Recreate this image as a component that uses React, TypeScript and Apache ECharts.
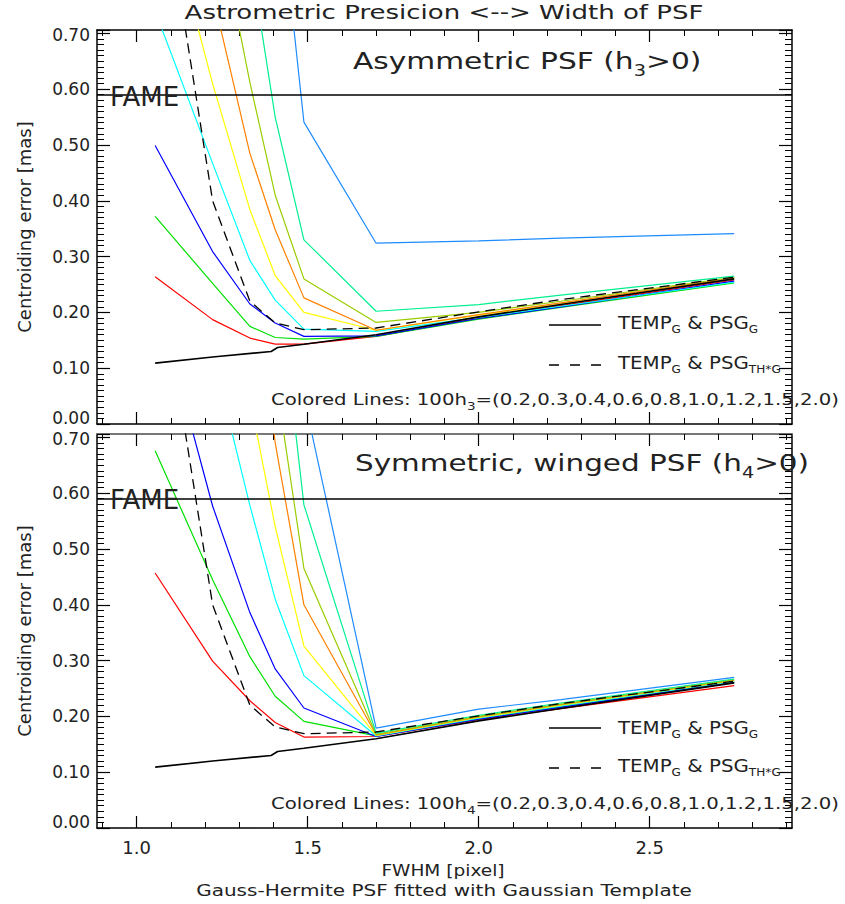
import React, { useEffect, useRef } from "react";
import * as echarts from "echarts";

// ---------- data ----------
const FWHM_GRID = [1.054, 1.222, 1.331, 1.405, 1.489, 1.7, 2.0, 2.24, 2.747];
const FWHM_TEMP_G = [1.054, 1.222, 1.393, 1.412, 1.489, 1.7, 2.0, 2.24, 2.747];

const ERR_TEMPG_PSGG = [0.109, 0.12, 0.13, 0.137, 0.143, 0.16, 0.192, 0.214, 0.26];
const ERR_TEMPG_PSGTHG = [1.05, 0.4, 0.22, 0.181, 0.169, 0.172, 0.201, 0.223, 0.263];

const H_VALUES = ["0.2", "0.3", "0.4", "0.6", "0.8", "1.0", "1.2", "1.5", "2.0"];
const H_COLORS = ["#ff0000", "#00e000", "#0000ff", "#00ffff", "#ffff00", "#ff8000", "#9acd00", "#00f090", "#1e8cff"];

// asymmetric PSF (h3)
const ERR_H3_02 = [0.264, 0.187, 0.154, 0.143, 0.143, 0.157, 0.19, 0.212, 0.258];
const ERR_H3_03 = [0.372, 0.252, 0.175, 0.155, 0.152, 0.157, 0.188, 0.209, 0.253];
const ERR_H3_04 = [0.499, 0.309, 0.215, 0.181, 0.157, 0.158, 0.189, 0.21, 0.256];
const ERR_H3_06 = [0.74, 0.467, 0.293, 0.222, 0.17, 0.166, 0.191, 0.211, 0.254];
const ERR_H3_08 = [1.0, 0.61, 0.384, 0.266, 0.2, 0.168, 0.195, 0.215, 0.26];
const ERR_H3_10 = [1.3, 0.77, 0.485, 0.348, 0.226, 0.168, 0.196, 0.217, 0.262];
const ERR_H3_12 = [1.6, 0.95, 0.612, 0.41, 0.26, 0.182, 0.2, 0.22, 0.263];
const ERR_H3_15 = [2.0, 1.3, 0.84, 0.55, 0.33, 0.202, 0.214, 0.231, 0.265];
const ERR_H3_20 = [3.0, 2.2, 1.5, 1.02, 0.541, 0.324, 0.328, 0.333, 0.341];

// symmetric winged PSF (h4)
const ERR_H4_02 = [0.457, 0.299, 0.228, 0.189, 0.163, 0.164, 0.194, 0.214, 0.255];
const ERR_H4_03 = [0.676, 0.445, 0.307, 0.236, 0.191, 0.165, 0.196, 0.217, 0.262];
const ERR_H4_04 = [0.96, 0.577, 0.386, 0.285, 0.215, 0.164, 0.195, 0.216, 0.261];
const ERR_H4_06 = [1.4, 0.85, 0.578, 0.41, 0.273, 0.165, 0.197, 0.219, 0.263];
const ERR_H4_08 = [2.0, 1.2, 0.77, 0.54, 0.326, 0.166, 0.198, 0.22, 0.264];
const ERR_H4_10 = [2.5, 1.6, 1.1, 0.69, 0.4, 0.167, 0.199, 0.221, 0.265];
const ERR_H4_12 = [3.0, 2.0, 1.3, 0.81, 0.465, 0.168, 0.2, 0.222, 0.266];
const ERR_H4_15 = [3.5, 2.4, 1.5, 1.03, 0.579, 0.17, 0.202, 0.224, 0.267];
const ERR_H4_20 = [4.0, 2.8, 1.7, 1.2, 0.772, 0.179, 0.213, 0.23, 0.27];

const ERR_H3 = [ERR_H3_02, ERR_H3_03, ERR_H3_04, ERR_H3_06, ERR_H3_08, ERR_H3_10, ERR_H3_12, ERR_H3_15, ERR_H3_20];
const ERR_H4 = [ERR_H4_02, ERR_H4_03, ERR_H4_04, ERR_H4_06, ERR_H4_08, ERR_H4_10, ERR_H4_12, ERR_H4_15, ERR_H4_20];

const FAME_LEVEL = 0.59;
const X_MIN = 0.884;
const X_MAX = 2.916;
const Y_MAX = 0.706;
const X_MAJOR_TICKS = [1.0, 1.5, 2.0, 2.5];
const X_MINOR_TICKS = [0.9, 1.0, 1.1, 1.2, 1.3, 1.4, 1.5, 1.6, 1.7, 1.8, 1.9, 2.0, 2.1, 2.2, 2.3, 2.4, 2.5, 2.6, 2.7, 2.8, 2.9];

const FONT = '"DejaVu Sans", sans-serif';
const INK = "#222";

function buildOption() {
  const xAxes: any[] = [];
  const yAxes: any[] = [];
  [0, 1].forEach((g) => {
    const frameColor = "#000";
    const topColor = g === 1 ? "#777" : "#000";
    const base = { type: "value", gridIndex: g, min: X_MIN, max: X_MAX, splitLine: { show: false } };
    xAxes.push({
      ...base,
      position: "bottom",
      axisLine: { show: true, onZero: false, lineStyle: { color: frameColor, width: 1.5 } },
      axisTick: { show: true, inside: true, length: 12, customValues: X_MAJOR_TICKS, lineStyle: { color: "#000", width: 1.2 } },
      axisLabel: {
        show: g === 1,
        customValues: X_MAJOR_TICKS,
        formatter: (v: number) => v.toFixed(1),
        fontSize: 18,
        fontFamily: FONT,
        color: INK,
        margin: 10,
      },
    });
    xAxes.push({
      ...base,
      position: "bottom",
      axisLine: { show: false, onZero: false },
      axisTick: { show: true, inside: true, length: 6, customValues: X_MINOR_TICKS, lineStyle: { color: "#000", width: 1 } },
      axisLabel: { show: false },
    });
    xAxes.push({
      ...base,
      position: "top",
      axisLine: { show: true, onZero: false, lineStyle: { color: topColor, width: g === 1 ? 2 : 1.5 } },
      axisTick: { show: true, inside: true, length: 12, customValues: X_MAJOR_TICKS, lineStyle: { color: "#000", width: 1.2 } },
      axisLabel: { show: false },
    });
    xAxes.push({
      ...base,
      position: "top",
      axisLine: { show: false, onZero: false },
      axisTick: { show: true, inside: true, length: 6, customValues: X_MINOR_TICKS, lineStyle: { color: "#000", width: 1 } },
      axisLabel: { show: false },
    });
    const yBase = {
      type: "value",
      gridIndex: g,
      min: 0,
      max: Y_MAX,
      interval: 0.1,
      splitLine: { show: false },
      axisLine: { show: true, onZero: false, lineStyle: { color: frameColor, width: 1.5 } },
      axisTick: { show: true, inside: true, length: 13, lineStyle: { color: "#000", width: 1.2 } },
      minorTick: { show: true, splitNumber: 10, length: 7, lineStyle: { color: "#000", width: 1 } },
    };
    yAxes.push({
      ...yBase,
      position: "left",
      axisLabel: {
        show: true,
        formatter: (v: number) => {
          if (Math.abs(v * 10 - Math.round(v * 10)) > 1e-6) return "";
          const s = v.toFixed(2);
          if (v < 1e-9) return "{lo|" + s + "}";
          if (Math.abs(v - 0.7) < 1e-6) return "{hi|" + s + "}";
          return s;
        },
        fontSize: 17,
        fontFamily: FONT,
        color: INK,
        margin: 7,
        rich: {
          lo: { fontSize: 17, fontFamily: FONT, color: INK, padding: [0, 0, 12, 0] },
          hi: { fontSize: 17, fontFamily: FONT, color: INK, padding: [4, 0, 0, 0] },
        },
      },
    });
    yAxes.push({ ...yBase, position: "right", axisLabel: { show: false } });
  });

  const series: any[] = [];
  const panels = [
    { errs: ERR_H3, xi: 0, yi: 0 },
    { errs: ERR_H4, xi: 4, yi: 2 },
  ];
  panels.forEach((p) => {
    p.errs.forEach((ys, k) => {
      series.push({
        type: "line",
        name: "100h=" + H_VALUES[k],
        xAxisIndex: p.xi,
        yAxisIndex: p.yi,
        data: FWHM_GRID.map((x, i) => [x, ys[i]]),
        symbol: "none",
        clip: true,
        silent: true,
        lineStyle: { color: H_COLORS[k], width: 1.2 },
        z: 2,
      });
    });
    series.push({
      type: "line",
      name: "TEMP_G & PSG_TH*G",
      xAxisIndex: p.xi,
      yAxisIndex: p.yi,
      data: FWHM_GRID.map((x, i) => [x, ERR_TEMPG_PSGTHG[i]]),
      symbol: "none",
      clip: true,
      silent: true,
      lineStyle: { color: "#000", width: 1.3, type: [10, 6] },
      z: 3,
    });
    series.push({
      type: "line",
      name: "TEMP_G & PSG_G",
      xAxisIndex: p.xi,
      yAxisIndex: p.yi,
      data: FWHM_TEMP_G.map((x, i) => [x, ERR_TEMPG_PSGG[i]]),
      symbol: "none",
      clip: true,
      silent: true,
      lineStyle: { color: "#000", width: 1.6 },
      z: 4,
      markLine: {
        silent: true,
        symbol: ["none", "none"],
        label: { show: false },
        lineStyle: { color: "#000", width: 1.6, type: "solid" },
        data: [{ yAxis: FAME_LEVEL }],
      },
    });
  });

  const txt = (x: number, y: number, text: string, size: number, sx = 1, extra: any = {}, el: any = {}) => ({
    type: "text",
    x,
    y,
    scaleX: sx,
    silent: true,
    z: 100,
    ...el,
    style: { text, fill: INK, fontSize: size, fontFamily: FONT, align: "left", verticalAlign: "middle", ...extra },
  });
  const sub = (size: number, pad: number) => ({ s: { fontSize: size, fontFamily: FONT, fill: INK, padding: [pad, 0, 0, 0] } });

  const graphic: any[] = [
    txt(444, 12, "Astrometric Presicion <--> Width of PSF", 19, 1.37, { align: "center" }),
    txt(353, 61, "Asymmetric PSF (h{s|3}>0)", 23, 1.29, { rich: sub(15, 20) }),
    txt(355, 463, "Symmetric, winged PSF (h{s|4}>0)", 23, 1.28, { rich: sub(15, 20) }),
    txt(110, 97, "FAME", 26, 1),
    txt(110, 500, "FAME", 26, 1),
    txt(24, 227, "Centroiding error [mas]", 18, 1, { align: "center" }, { rotation: Math.PI / 2 }),
    txt(24, 631, "Centroiding error [mas]", 18, 1, { align: "center" }, { rotation: Math.PI / 2 }),
    txt(443, 870, "FWHM [pixel]", 16, 1.16, { align: "center" }),
    txt(444, 890, "Gauss-Hermite PSF fitted with Gaussian Template", 16, 1.25, { align: "center" }),
  ];
  const legendRows = [
    { solidY: 325, solidT: 322, dashY: 365, dashT: 362, colY: 399, h: "3" },
    { solidY: 728, solidT: 727, dashY: 768, dashT: 765, colY: 803, h: "4" },
  ];
  legendRows.forEach((r) => {
    graphic.push({ type: "line", silent: true, z: 100, shape: { x1: 549, y1: r.solidY, x2: 601, y2: r.solidY }, style: { stroke: "#000", lineWidth: 1.3 } });
    graphic.push({ type: "line", silent: true, z: 100, shape: { x1: 549, y1: r.dashY, x2: 601, y2: r.dashY }, style: { stroke: "#000", lineWidth: 1.3, lineDash: [10, 11] } });
    graphic.push(txt(618, r.solidT, "TEMP{s|G} & PSG{s|G}", 18, 1.1, { rich: sub(11, 14) }));
    graphic.push(txt(618, r.dashT, "TEMP{s|G} & PSG{s|TH*G}", 18, 1.1, { rich: sub(11, 14) }));
    graphic.push(
      txt(271, r.colY, "Colored Lines: 100h{s|" + r.h + "}=(" + H_VALUES.join(",") + ")", 16, 1.23, { rich: sub(11, 14) })
    );
  });

  return {
    animation: false,
    backgroundColor: "#fff",
    grid: [
      { left: 97, top: 30, width: 695, height: 394 },
      { left: 97, top: 434, width: 695, height: 394 },
    ],
    xAxis: xAxes,
    yAxis: yAxes,
    series,
    graphic,
  };
}

export default function App() {
  const ref = useRef<HTMLDivElement>(null);
  useEffect(() => {
    const chart = echarts.init(ref.current!, null, { renderer: "svg" });
    chart.setOption(buildOption() as any);
    return () => chart.dispose();
  }, []);
  return (
    <div
      ref={ref}
      style={{ position: "absolute", left: 0, top: 0, width: 845, height: 904, background: "#fff" }}
    />
  );
}
